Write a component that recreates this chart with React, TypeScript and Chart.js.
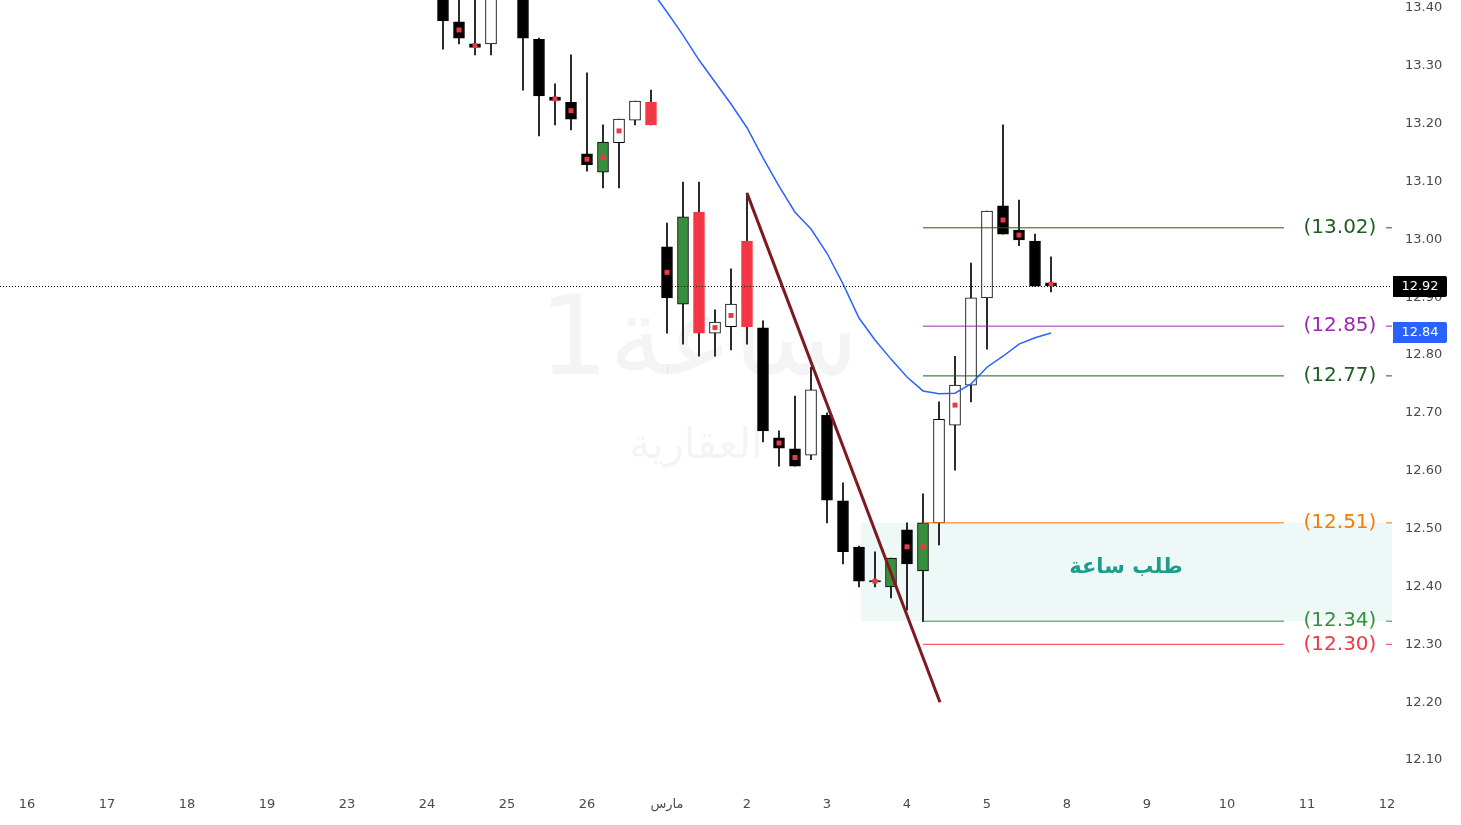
import { useEffect, useRef } from "react";
import { Chart, registerables } from "chart.js";

Chart.register(...registerables);

// ---------- data ----------
const firstIndex = 26; // candle index (5 hourly candles per trading day)
const candleTypes = [
  "k", "k", "k", "w", "k", "k", "k", "k", "k", "k",
  "g", "w", "w", "r", "k", "g", "r", "w", "w", "r",
  "k", "k", "k", "w", "k", "k", "k", "k", "g", "k",
  "g", "w", "w", "w", "w", "k", "k", "k", "k",
];
const opens = [
  13.44, 13.376, 13.338, 13.338, 13.5, 13.44, 13.346, 13.246, 13.237, 13.148,
  13.116, 13.167, 13.206, 13.237, 12.987, 12.888, 13.047, 12.838, 12.849, 12.997,
  12.847, 12.657, 12.638, 12.627, 12.696, 12.548, 12.468, 12.41, 12.399, 12.498,
  12.427, 12.51, 12.679, 12.748, 12.899, 13.058, 13.016, 12.997, 12.925,
];
const highs = [
  13.46, 13.45, 13.45, 13.48, 13.52, 13.45, 13.348, 13.269, 13.319, 13.288,
  13.198, 13.208, 13.239, 13.258, 13.028, 13.099, 13.099, 12.878, 12.949, 13.08,
  12.859, 12.669, 12.729, 12.779, 12.7, 12.579, 12.47, 12.46, 12.449, 12.51,
  12.56, 12.719, 12.798, 12.959, 13.049, 13.198, 13.068, 13.009, 12.97,
];
const lows = [
  13.329, 13.338, 13.319, 13.319, 13.43, 13.258, 13.179, 13.198, 13.189, 13.118,
  13.089, 13.089, 13.198, 13.198, 12.838, 12.819, 12.798, 12.798, 12.809, 12.819,
  12.65, 12.608, 12.608, 12.619, 12.51, 12.439, 12.399, 12.399, 12.38, 12.359,
  12.339, 12.472, 12.601, 12.719, 12.81, 13.009, 12.989, 12.919, 12.909,
];
const closes = [
  13.378, 13.348, 13.332, 13.45, 13.46, 13.348, 13.248, 13.24, 13.208, 13.129,
  13.168, 13.208, 13.239, 13.198, 12.899, 13.039, 12.838, 12.857, 12.888, 12.849,
  12.669, 12.639, 12.608, 12.74, 12.549, 12.46, 12.409, 12.408, 12.449, 12.439,
  12.51, 12.689, 12.748, 12.899, 13.049, 13.009, 12.999, 12.919, 12.92,
];
const markedCandles = [27, 28, 33, 34, 35, 36, 37, 40, 43, 44, 47, 48, 53, 55, 56, 58, 61, 62, 64];

const maFirstIndex = 39;
const maValues = [
  13.431, 13.393, 13.353, 13.31, 13.272, 13.234, 13.193, 13.141, 13.092, 13.047,
  13.018, 12.976, 12.923, 12.864, 12.826, 12.793, 12.762, 12.738, 12.733, 12.734,
  12.75, 12.779, 12.798, 12.819, 12.83, 12.838,
];

const dayTickIndex = [0, 5, 10, 15, 20, 25, 30, 35, 40, 45, 50, 55, 60, 65, 70, 75, 80, 85];
const dayLabels = ["16", "17", "18", "19", "23", "24", "25", "26", "مارس", "2", "3", "4", "5", "8", "9", "10", "11", "12"];
const priceTicks = [12.1, 12.2, 12.3, 12.4, 12.5, 12.6, 12.7, 12.8, 12.9, 13.0, 13.1, 13.2, 13.3, 13.4];

const levelValues = [13.02, 12.85, 12.764, 12.51, 12.34, 12.3];
const levelLabels = ["(13.02)", "(12.85)", "(12.77)", "(12.51)", "(12.34)", "(12.30)"];
const levelColors = ["#1b5e20", "#9c27b0", "#1b5e20", "#f57c00", "#388e3c", "#f23645"];
const levelStart = 56;
const levelEnd = 78.56;
const levelLabelAt = 82.06;
const levelTickStart = 84.94;
const levelTickEnd = 85.4;

const trendX = [45, 57.06];
const trendY = [13.08, 12.2];

const zoneStart = 52.125;
const zoneTop = 12.51;
const zoneBottom = 12.34;
const zoneLabel = "طلب ساعة";
const zoneLabelX = 68.69;
const zoneLabelY = 12.432;

const lastPrice = 12.92;
const maLast = 12.84;

const xMin = -1.6875;
const xMax = 85.3125;
const yMin = 12.0568;
const yMax = 13.4138;

// ---------- colours ----------
const bodyFill: Record<string, string> = { k: "#000000", w: "#ffffff", g: "#388e3c", r: "#f23645" };
const bodyBorder: Record<string, string> = { k: "#000000", w: "#000000", g: "#000000", r: "#f23645" };

const FONT = '"DejaVu Sans", sans-serif';

const overlay = {
  id: "overlay",
  beforeDatasetsDraw(chart: any) {
    const { ctx, chartArea: a, scales } = chart;
    const x = scales.x;
    const y = scales.y;
    ctx.save();
    // demand zone
    const zx = x.getPixelForValue(zoneStart);
    const zy0 = y.getPixelForValue(zoneTop);
    const zy1 = y.getPixelForValue(zoneBottom);
    ctx.fillStyle = "rgba(38,166,154,0.08)";
    ctx.fillRect(zx, zy0, a.right - zx, zy1 - zy0);
    // watermark
    ctx.fillStyle = "rgba(0,0,0,0.045)";
    ctx.textAlign = "center";
    ctx.textBaseline = "middle";
    ctx.direction = "rtl";
    ctx.font = `110px ${FONT}`;
    ctx.fillText("ساعة1", a.left + (a.right - a.left) * 0.502, a.top + (a.bottom - a.top) * 0.44);
    ctx.font = `42px ${FONT}`;
    ctx.fillText("العقارية", a.left + (a.right - a.left) * 0.5, a.top + (a.bottom - a.top) * 0.57);
    ctx.restore();
  },
  afterDatasetsDraw(chart: any) {
    const { ctx, chartArea: a, scales } = chart;
    const x = scales.x;
    const y = scales.y;
    ctx.save();
    // last price dotted line
    const py = Math.round(y.getPixelForValue(lastPrice)) + 0.5;
    ctx.strokeStyle = "#000";
    ctx.lineWidth = 1;
    ctx.setLineDash([1, 2]);
    ctx.beginPath();
    ctx.moveTo(a.left, py);
    ctx.lineTo(a.right, py);
    ctx.stroke();
    ctx.setLineDash([]);
    // level labels
    ctx.font = `20px ${FONT}`;
    ctx.textAlign = "center";
    ctx.textBaseline = "middle";
    levelValues.forEach((v, i) => {
      ctx.fillStyle = levelColors[i];
      ctx.fillText(levelLabels[i], x.getPixelForValue(levelLabelAt), y.getPixelForValue(v));
    });
    // zone label
    ctx.fillStyle = "#1e9e8a";
    ctx.font = `bold 21px ${FONT}`;
    ctx.direction = "rtl";
    ctx.fillText(zoneLabel, x.getPixelForValue(zoneLabelX), y.getPixelForValue(zoneLabelY));
    ctx.restore();
  },
  afterDraw(chart: any) {
    const { ctx, chartArea: a, scales } = chart;
    const y = scales.y;
    ctx.save();
    const boxes = [
      { v: lastPrice, bg: "#000000" },
      { v: maLast, bg: "#2962ff" },
    ];
    ctx.font = `13px ${FONT}`;
    ctx.textAlign = "center";
    ctx.textBaseline = "middle";
    boxes.forEach((b) => {
      const cy = y.getPixelForValue(b.v);
      ctx.fillStyle = b.bg;
      ctx.beginPath();
      ctx.roundRect(a.right + 1, Math.round(cy) - 10, 54, 21, [0, 2, 2, 0]);
      ctx.fill();
      ctx.fillStyle = "#ffffff";
      ctx.fillText(b.v.toFixed(2), a.right + 28, Math.round(cy) + 1);
    });
    ctx.restore();
  },
};

export default function App() {
  const ref = useRef<HTMLCanvasElement | null>(null);

  useEffect(() => {
    if (!ref.current) return;
    const idx = opens.map((_, i) => firstIndex + i);
    const wickData = idx.map((xi, i) => ({ x: xi, y: [lows[i], highs[i]] }));
    const bodyData = idx.map((xi, i) => ({ x: xi, y: [opens[i], closes[i]] }));
    const markData = markedCandles.map((xi) => {
      const i = xi - firstIndex;
      return { x: xi, y: (opens[i] + closes[i]) / 2 };
    });
    const maData = maValues.map((v, i) => ({ x: maFirstIndex + i, y: v }));
    const trendData = trendX.map((xv, i) => ({ x: xv, y: trendY[i] }));

    const levelSets = levelValues.map((v, i) => ({
      type: "line",
      data: [
        { x: levelStart, y: v },
        { x: levelEnd, y: v },
        { x: (levelEnd + levelTickStart) / 2, y: null },
        { x: levelTickStart, y: v },
        { x: levelTickEnd, y: v },
      ],
      borderColor: levelColors[i],
      borderWidth: 1,
      pointRadius: 0,
      spanGaps: false,
      order: 1,
    }));

    const chart = new Chart(ref.current, {
      type: "bar",
      data: {
        datasets: [
          {
            type: "bar",
            data: wickData,
            backgroundColor: "#000000",
            barThickness: 1,
            grouped: false,
            order: 6,
          },
          {
            type: "bar",
            data: bodyData,
            backgroundColor: candleTypes.map((t) => bodyFill[t]),
            borderColor: candleTypes.map((t) => bodyBorder[t]),
            borderWidth: 1,
            borderSkipped: false,
            barThickness: 11,
            grouped: false,
            order: 5,
          },
          {
            type: "line",
            data: markData,
            showLine: false,
            pointStyle: "rect",
            pointRadius: 3.5,
            pointBackgroundColor: "#f23645",
            pointBorderWidth: 0,
            order: 4,
          },
          {
            type: "line",
            data: maData,
            borderColor: "#2962ff",
            borderWidth: 1.5,
            pointRadius: 0,
            tension: 0,
            order: 3,
          },
          {
            type: "line",
            data: trendData,
            borderColor: "#7e1a1f",
            borderWidth: 3,
            pointRadius: 0,
            order: 0,
          },
          ...levelSets,
        ] as any,
      },
      options: {
        animation: false,
        responsive: false,
        events: [],
        layout: { padding: 0, autoPadding: false },
        plugins: { legend: { display: false }, tooltip: { enabled: false } },
        scales: {
          x: {
            type: "linear",
            min: xMin,
            max: xMax,
            offset: false,
            grid: { display: false, drawTicks: false },
            border: { display: false },
            afterFit: (s: any) => {
              s.height = 40;
              s.paddingLeft = 0;
              s.paddingRight = 0;
            },
            afterBuildTicks: (s: any) => {
              s.ticks = dayTickIndex.map((v) => ({ value: v }));
            },
            ticks: {
              autoSkip: false,
              maxRotation: 0,
              padding: 12,
              color: "#4a4a4a",
              font: { family: FONT, size: 13 },
              callback: (v: any) => {
                const k = dayTickIndex.indexOf(Number(v));
                return k >= 0 ? dayLabels[k] : "";
              },
            },
          },
          y: {
            type: "linear",
            position: "right",
            min: yMin,
            max: yMax,
            grid: { display: false, drawTicks: false },
            border: { display: false },
            afterFit: (s: any) => {
              s.width = 69;
              s.paddingTop = 0;
              s.paddingBottom = 0;
            },
            afterBuildTicks: (s: any) => {
              s.ticks = priceTicks.map((v) => ({ value: v }));
            },
            ticks: {
              crossAlign: "near",
              padding: 13,
              color: "#4a4a4a",
              font: { family: FONT, size: 13 },
              callback: (v: any) => Number(v).toFixed(2),
            },
          },
        },
      } as any,
      plugins: [overlay],
    });
    return () => chart.destroy();
  }, []);

  return (
    <div style={{ position: "fixed", left: 0, top: 0, width: 1461, height: 825, background: "#fff" }}>
      <canvas ref={ref} width={1461} height={825} style={{ display: "block" }} />
    </div>
  );
}
